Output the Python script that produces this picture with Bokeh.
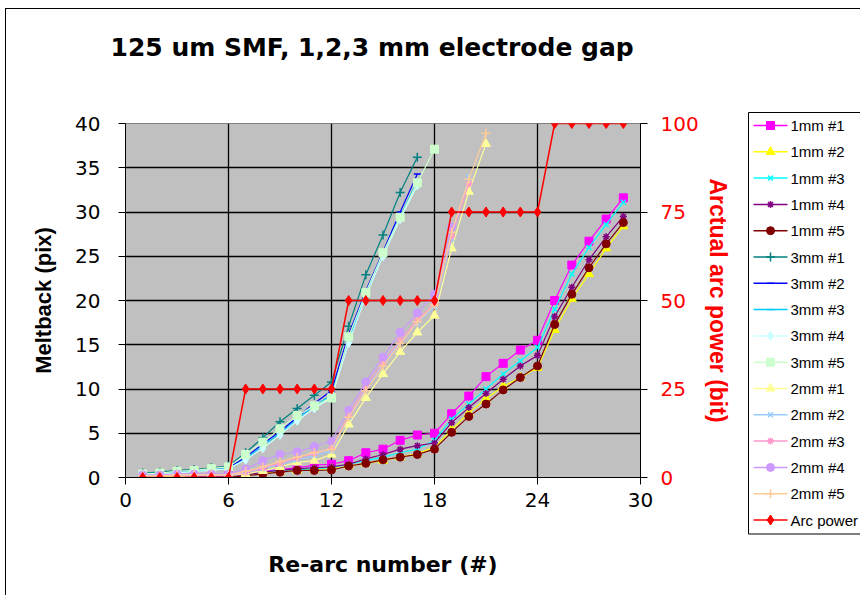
from bokeh.plotting import figure
from bokeh.layouts import row, column
from bokeh.models import Range1d, LinearAxis, FixedTicker
from bokeh.embed import file_html
from bokeh.resources import INLINE

# ---------------- data ----------------
x29 = list(range(1, 30))
x17 = list(range(1, 18))
x18 = list(range(1, 19))
x19 = list(range(1, 20))
x20 = list(range(1, 21))
x21 = list(range(1, 22))

arc_power = [0, 0, 0, 0, 0, 0, 25, 25, 25, 25, 25, 25, 50, 50, 50, 50, 50, 50,
             75, 75, 75, 75, 75, 75, 100, 100, 100, 100, 100]

mm1_1 = [0.2, 0.2, 0.2, 0.2, 0.2, 0.2, 0.4, 0.7, 0.9, 1.1, 1.4, 1.5, 1.9, 2.8, 3.2, 4.2, 4.8, 5.0,
         7.2, 9.2, 11.4, 12.9, 14.4, 15.5, 20.0, 24.0, 26.7, 29.2, 31.6]
mm1_2 = [0.0, 0.0, 0.0, 0.0, 0.0, 0.0, 0.3, 0.5, 0.7, 0.8, 0.9, 1.0, 1.3, 1.6, 1.9, 2.3, 2.7, 3.4,
         5.4, 7.3, 8.9, 10.3, 11.3, 12.4, 16.7, 20.2, 23.0, 25.9, 28.4]
mm1_3 = [0.1, 0.1, 0.1, 0.1, 0.1, 0.1, 0.3, 0.6, 0.8, 0.9, 1.0, 1.1, 1.5, 1.9, 2.3, 2.8, 3.2, 4.2,
         6.6, 8.3, 10.0, 11.7, 13.2, 14.7, 19.0, 23.0, 26.0, 28.6, 31.1]
mm1_4 = [0.1, 0.1, 0.1, 0.1, 0.1, 0.1, 0.3, 0.6, 0.8, 1.0, 1.1, 1.2, 1.5, 2.1, 2.6, 3.2, 3.6, 3.9,
         6.2, 7.9, 9.5, 11.1, 12.6, 13.8, 18.2, 21.5, 24.6, 27.2, 29.5]
mm1_5 = [0.0, 0.0, 0.0, 0.0, 0.0, 0.0, 0.2, 0.4, 0.6, 0.8, 0.8, 0.85, 1.3, 1.6, 2.0, 2.3, 2.6, 3.2,
         5.1, 6.9, 8.3, 9.9, 11.3, 12.6, 17.3, 20.7, 23.7, 26.4, 28.8]

mm3_1 = [0.5, 0.6, 0.8, 0.9, 1.1, 1.3, 2.8, 4.5, 6.3, 7.8, 9.3, 10.8, 17.1, 22.9, 27.4, 32.2, 36.2]
mm3_2 = [0.3, 0.5, 0.6, 0.8, 0.9, 1.1, 2.3, 3.8, 5.2, 6.8, 8.4, 9.8, 16.2, 21.1, 25.5, 30.0, 34.3]
mm3_3 = [0.3, 0.4, 0.6, 0.7, 0.9, 1.0, 2.1, 3.6, 5.0, 6.6, 8.1, 9.3, 15.5, 20.8, 25.3, 29.5, 33.5]
mm3_4 = [0.3, 0.4, 0.5, 0.7, 0.8, 1.0, 2.0, 3.3, 4.8, 6.4, 7.8, 9.0, 15.2, 20.5, 25.0, 29.2, 33.0]
mm3_5 = [0.4, 0.5, 0.7, 0.8, 1.0, 1.2, 2.6, 4.0, 5.5, 7.0, 8.1, 9.0, 15.9, 20.9, 25.4, 29.4, 33.3, 37.1]

mm2_1 = [0.1, 0.1, 0.1, 0.2, 0.2, 0.2, 0.4, 0.75, 1.2, 1.7, 1.9, 2.6, 6.0, 9.0, 11.7, 14.2, 16.4, 18.3,
         25.9, 32.3, 37.7]
mm2_2 = [0.2, 0.2, 0.3, 0.3, 0.3, 0.3, 0.6, 1.0, 1.5, 2.0, 2.5, 3.0, 6.8, 10.0, 12.8, 15.3, 17.5, 19.3,
         27.0, 34.0]
mm2_3 = [0.2, 0.2, 0.3, 0.3, 0.3, 0.3, 0.6, 1.1, 1.6, 2.2, 2.7, 3.3, 7.0, 10.3, 13.0, 15.5, 17.8, 19.6,
         27.3, 33.2]
mm2_4 = [0.3, 0.3, 0.4, 0.4, 0.4, 0.4, 0.95, 1.9, 2.6, 2.9, 3.5, 4.1, 7.6, 10.8, 13.6, 16.4, 18.6, 20.7,
         28.3]
mm2_5 = [0.2, 0.2, 0.3, 0.3, 0.3, 0.3, 0.7, 1.2, 1.8, 2.3, 2.8, 3.2, 6.8, 9.8, 12.6, 15.1, 17.6, 19.5,
         27.7, 33.7, 38.9]

x_ticks = [0, 6, 12, 18, 24, 30]
y_ticks = [0, 5, 10, 15, 20, 25, 30, 35, 40]
y2_ticks = [0, 25, 50, 75, 100]

title_text = "125 um SMF, 1,2,3 mm electrode gap"

series = [
    ("1mm #1", x29, mm1_1, "#FF00FF", "square", 8),
    ("1mm #2", x29, mm1_2, "#FFFF00", "triangle", 9),
    ("1mm #3", x29, mm1_3, "#00FFFF", "x", 7),
    ("1mm #4", x29, mm1_4, "#800080", "asterisk", 7),
    ("1mm #5", x29, mm1_5, "#800000", "circle", 8),
    ("3mm #1", x17, mm3_1, "#008080", "cross", 9),
    ("3mm #2", x17, mm3_2, "#0000FF", "dash", 7),
    ("3mm #3", x17, mm3_3, "#00CCFF", "dash", 7),
    ("3mm #4", x17, mm3_4, "#CCFFFF", "diamond", 9),
    ("3mm #5", x18, mm3_5, "#CCFFCC", "square", 8),
    ("2mm #1", x21, mm2_1, "#FFFF99", "triangle", 9),
    ("2mm #2", x20, mm2_2, "#99CCFF", "x", 7),
    ("2mm #3", x20, mm2_3, "#FF99CC", "asterisk", 7),
    ("2mm #4", x19, mm2_4, "#CC99FF", "circle", 8),
    ("2mm #5", x21, mm2_5, "#FFCC99", "cross", 9),
]
arc_series = ("Arc power", "#FF0000", "diamond", 10)

WIDE = "DejaVu Sans"
ARIAL = "Liberation Sans"
LINE_MARKERS = ("x", "asterisk", "cross", "dash")

H = 595        # total height
TH = 70        # height of the title strip
MW = 747       # width of the main chart canvas

# ---------------- title strip ----------------
tf = figure(width=MW, height=TH, min_border=0, x_range=Range1d(0, MW), y_range=Range1d(TH, 0),
            output_backend="svg", toolbar_location=None)
tf.axis.visible = False
tf.grid.visible = False
tf.outline_line_color = None
tf.background_fill_color = None
tf.border_fill_color = None
tf.text(x=[110], y=[47], text=[title_text], text_font={"value": WIDE},
        text_font_style="bold", text_font_size="25px", text_baseline="middle",
        text_align="left", text_color="black")

# ---------------- main chart ----------------
p = figure(frame_width=515, frame_height=354,
           min_border_left=125, min_border_right=MW - 125 - 515,
           min_border_top=123 - TH, min_border_bottom=H - 123 - 354,
           x_range=Range1d(0, 30), y_range=Range1d(0, 40),
           output_backend="svg", toolbar_location=None)
p.extra_y_ranges = {"arc": Range1d(0, 100)}

p.background_fill_color = "#C0C0C0"
p.border_fill_color = None
p.outline_line_color = "#808080"
p.outline_line_width = 1

for ax in (p.xaxis[0], p.yaxis[0]):
    ax.major_tick_out = 7
    ax.major_tick_in = 0
    ax.minor_tick_out = 0
    ax.minor_tick_in = 0
    ax.axis_line_color = "black"
    ax.major_tick_line_color = "black"
    ax.major_label_text_font = WIDE
    ax.major_label_text_font_size = "20px"
    ax.major_label_text_color = "black"
    ax.axis_label_text_font_style = "bold"
    ax.axis_label_text_color = "black"

p.xaxis[0].ticker = FixedTicker(ticks=x_ticks)
p.yaxis[0].ticker = FixedTicker(ticks=y_ticks)
p.xaxis[0].axis_label = "Re-arc number (#)"
p.xaxis[0].axis_label_text_font = WIDE
p.xaxis[0].axis_label_text_font_size = "22px"
p.yaxis[0].axis_label = "Meltback (pix)"
p.yaxis[0].axis_label_text_font = ARIAL
p.yaxis[0].axis_label_text_font_size = "22px"
p.xaxis[0].major_label_standoff = 8
p.xaxis[0].axis_label_standoff = 42
p.yaxis[0].major_label_standoff = 18
p.yaxis[0].axis_label_standoff = 16

ax2 = LinearAxis(y_range_name="arc", ticker=FixedTicker(ticks=y2_ticks),
                 axis_label="Arctual arc power (bit)")
ax2.major_tick_out = 7
ax2.major_tick_in = 0
ax2.minor_tick_out = 0
ax2.minor_tick_in = 0
ax2.axis_line_color = "black"
ax2.major_label_text_font = WIDE
ax2.major_label_text_font_size = "20px"
ax2.major_label_text_color = "#FF0000"
ax2.major_label_standoff = 13
ax2.axis_label_text_font = ARIAL
ax2.axis_label_text_font_style = "bold"
ax2.axis_label_text_font_size = "23px"
ax2.axis_label_text_color = "#FF0000"
ax2.axis_label_standoff = 3
p.add_layout(ax2, "right")

p.xgrid.ticker = FixedTicker(ticks=x_ticks)
p.ygrid.ticker = FixedTicker(ticks=y_ticks)
p.xgrid.grid_line_color = "black"
p.ygrid.grid_line_color = "black"
p.xgrid.grid_line_width = 1.3
p.ygrid.grid_line_width = 1.3


def add_markers(fig, xs, ys, color, marker, size, **kw):
    lw = 1.5 if marker in LINE_MARKERS else 1
    return fig.scatter(xs, ys, marker=marker, size=size, line_color=color,
                       fill_color=color, line_width=lw, **kw)


for name, xs, ys, color, marker, size in series:
    p.line(xs, ys, line_color=color, line_width=1.2)
    add_markers(p, xs, ys, color, marker, size)

p.line(x29, arc_power, line_color="#FF0000", line_width=1.5, y_range_name="arc")
add_markers(p, x29, arc_power, "#FF0000", "diamond", 10, y_range_name="arc")

# ---------------- legend panel (own canvas, pixel-like coordinates) ----------------
LW = 113
lg = figure(width=LW, height=H, min_border=0, x_range=Range1d(0, LW), y_range=Range1d(H, 0),
            output_backend="svg", toolbar_location=None)
lg.axis.visible = False
lg.grid.visible = False
lg.outline_line_color = None
lg.background_fill_color = None
lg.border_fill_color = None

first_y = 125
step = 26.3
entries = [(s[0], s[3], s[4], s[5]) for s in series] + [arc_series]
box_top = first_y - 13
box_bottom = first_y + step * (len(entries) - 1) + 14
lg.quad(left=1, right=LW + 20, top=box_top, bottom=box_bottom,
        fill_color="white", line_color="black", line_width=1)

ys_leg = [first_y + step * i for i in range(len(entries))]
for (name, color, marker, size), yy in zip(entries, ys_leg):
    lg.line([6, 40], [yy, yy], line_color=color, line_width=1.5)
    add_markers(lg, [23], [yy], color, marker, size)
lg.text(x=[43] * len(entries), y=ys_leg, text=[e[0] for e in entries],
        text_font_size="15px", text_baseline="middle", text_align="left",
        text_color="black", text_font={"value": ARIAL})

chart_border = {
    "background-color": "white",
    "background-image": "linear-gradient(#000, #000), linear-gradient(#000, #000)",
    "background-size": "1px 100%, 100% 1px",
    "background-position": "5px 8px, 5px 8px",
    "background-repeat": "no-repeat",
}
left_part = column(row(tf, spacing=0), row(p, spacing=0), spacing=0)
layout = row(left_part, column(lg, spacing=0), spacing=0, styles=chart_border)
open("out.html", "w").write(file_html(layout, INLINE))
